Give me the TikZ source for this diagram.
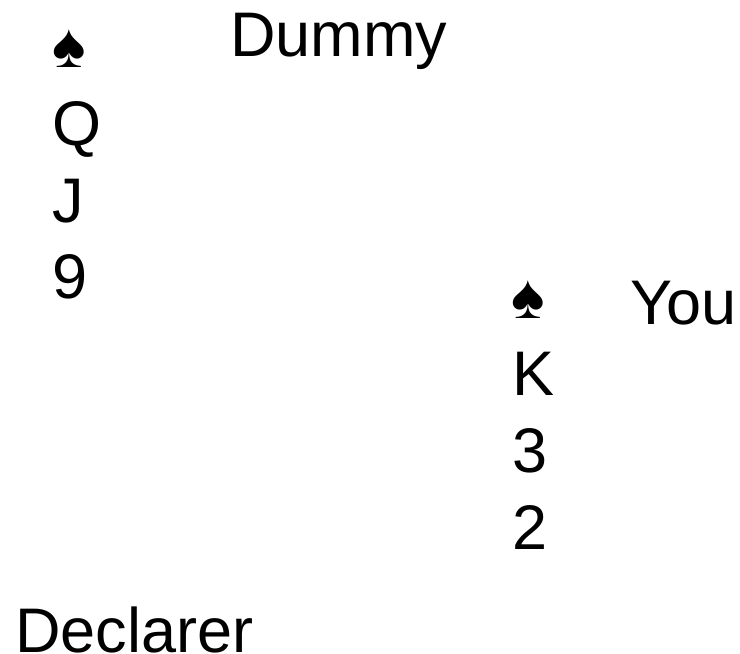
\documentclass[tikz,border=0pt]{standalone}
\usepackage{fontspec}
\setmainfont{Liberation Sans}
\tikzset{lab/.style={inner sep=0pt,anchor=base west,font=\fontsize{63}{63}\selectfont}}
\begin{document}
\begin{tikzpicture}[x=1pt,y=-1pt]
\useasboundingbox (0,0) rectangle (740,654);
\node[lab] (s1) at (52,67) {♠};
\node[lab] (d) at (230,56) {Dummy};
\node[lab] (q) at (52,145) {Q};
\node[lab] (j) at (52,222) {J};
\node[lab] (n) at (52,298) {9};
\node[lab] (s2) at (511,318) {♠};
\node[lab] (y) at (630,324) {You};
\node[lab] (k) at (512,395) {K};
\node[lab] (t) at (512,472) {3};
\node[lab] (w) at (512,549) {2};
\node[lab] (e) at (15,652) {Declarer};
\end{tikzpicture}
\end{document}
